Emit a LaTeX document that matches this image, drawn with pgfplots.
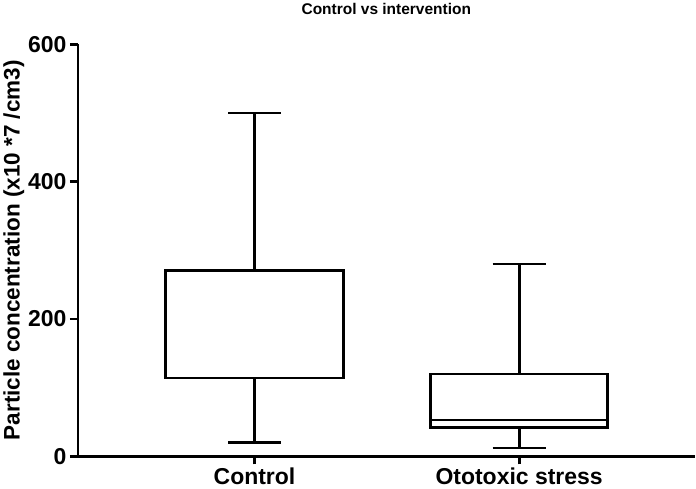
\documentclass[border=0pt]{standalone}
\usepackage{pgfplots}
\pgfplotsset{compat=1.18}
\usepgfplotslibrary{statistics}
\usepackage{fontspec}
\setmainfont{Liberation Sans}
\begin{document}
\begin{tikzpicture}
    \begin{axis}
        [
            scale only axis,
            width=615bp, height=411bp,
            axis x line=bottom, axis y line=left,
            axis line style={-, line width=2.8bp},
            xmin=0.333, xmax=2.663,
            ymin=0, ymax=600,
            xtick={1,2},
            xticklabels={Control, Ototoxic stress},
            ytick={0,200,400,600},
            tick align=outside,
            major tick length=8bp,
            every tick/.style={black, line width=2.8bp},
            tick label style={font=\fontsize{23}{27}\selectfont\bfseries},
            /pgf/number format/assume math mode=true,
            ylabel={Particle concentration (x10 *7 /cm3)},
            ylabel style={font=\fontsize{22.5}{26}\selectfont\bfseries, yshift=-3bp},
            title={Control vs intervention},
            title style={font=\fontsize{15.5}{18}\selectfont\bfseries, yshift=20bp},
            boxplot/draw direction=y,
            boxplot/box extend=0.67,
            boxplot/whisker extend=0.2,
        ]
        \addplot [black, line width=2.8bp, fill=white, solid,
            boxplot prepared={draw position=1,
                lower whisker=20, lower quartile=114, median=114,
                upper quartile=270, upper whisker=500}]
            coordinates {};
        \addplot [black, line width=2.8bp, fill=white, solid,
            boxplot prepared={draw position=2,
                lower whisker=12, lower quartile=42, median=53,
                upper quartile=120, upper whisker=280}]
            coordinates {};
    \end{axis}
\end{tikzpicture}
\end{document}
